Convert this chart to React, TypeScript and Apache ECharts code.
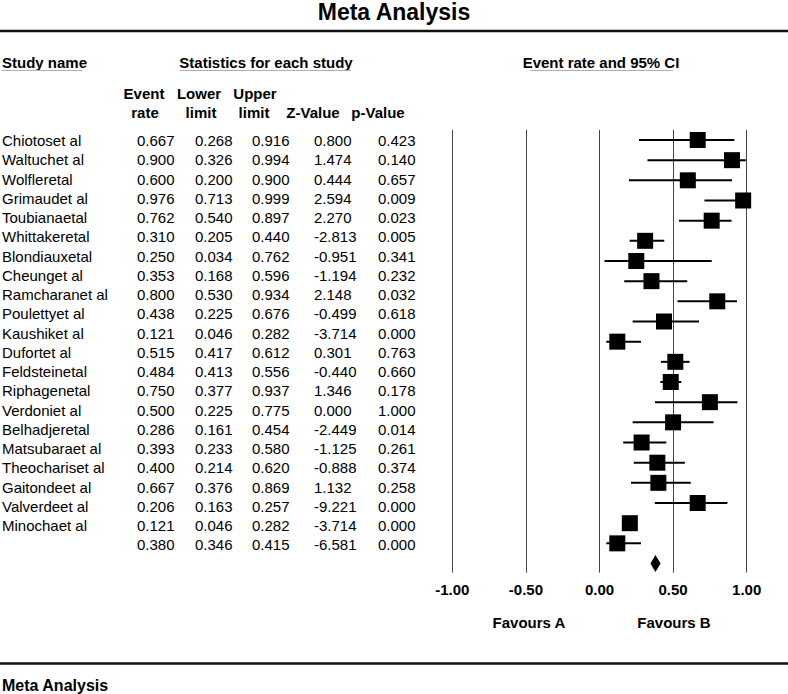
import React, { useEffect, useRef } from "react";
import * as echarts from "echarts";

const studyNames = [
  "Chiotoset al", "Waltuchet al", "Wolfleretal", "Grimaudet al", "Toubianaetal",
  "Whittakeretal", "Blondiauxetal", "Cheunget al", "Ramcharanet al", "Poulettyet al",
  "Kaushiket al", "Dufortet al", "Feldsteinetal", "Riphagenetal", "Verdoniet al",
  "Belhadjeretal", "Matsubaraet al", "Theochariset al", "Gaitondeet al", "Valverdeet al",
  "Minochaet al", "",
];
const eventRate = [0.667, 0.9, 0.6, 0.976, 0.762, 0.31, 0.25, 0.353, 0.8, 0.438, 0.121, 0.515, 0.484, 0.75, 0.5, 0.286, 0.393, 0.4, 0.667, 0.206, 0.121, 0.38];
const lowerLimit = [0.268, 0.326, 0.2, 0.713, 0.54, 0.205, 0.034, 0.168, 0.53, 0.225, 0.046, 0.417, 0.413, 0.377, 0.225, 0.161, 0.233, 0.214, 0.376, 0.163, 0.046, 0.346];
const upperLimit = [0.916, 0.994, 0.9, 0.999, 0.897, 0.44, 0.762, 0.596, 0.934, 0.676, 0.282, 0.612, 0.556, 0.937, 0.775, 0.454, 0.58, 0.62, 0.869, 0.257, 0.282, 0.415];
const zValue = [0.8, 1.474, 0.444, 2.594, 2.27, -2.813, -0.951, -1.194, 2.148, -0.499, -3.714, 0.301, -0.44, 1.346, 0.0, -2.449, -1.125, -0.888, 1.132, -9.221, -3.714, -6.581];
const pValue = [0.423, 0.14, 0.657, 0.009, 0.023, 0.005, 0.341, 0.232, 0.032, 0.618, 0.0, 0.763, 0.66, 0.178, 1.0, 0.014, 0.261, 0.374, 0.258, 0.0, 0.0, 0.0];
const summaryIndex = 21;

const FONT = '"Liberation Sans", Arial, Helvetica, sans-serif';

export default function App() {
  const ref = useRef<HTMLDivElement>(null);
  useEffect(() => {
    if (!ref.current) return;
    const chart = echarts.init(ref.current, null, { renderer: "svg" });

    const graphics: any[] = [];
    const txt = (text: string, x: number, y: number, size: number, bold: boolean, align = "left") => {
      graphics.push({
        type: "text",
        x,
        y,
        silent: true,
        style: {
          text,
          fontSize: size,
          fontWeight: bold ? "bold" : "normal",
          fontFamily: FONT,
          fill: "#000",
          align,
          verticalAlign: "middle",
        },
      });
    };
    const hline = (x1: number, x2: number, y: number, w: number, color: string) => {
      graphics.push({
        type: "line",
        silent: true,
        shape: { x1, y1: y, x2, y2: y },
        style: { stroke: color, lineWidth: w },
      });
    };

    txt("Meta Analysis", 394, 12, 23, true, "center");
    hline(0, 788, 31, 2.5, "#111");
    txt("Study name", 2, 62, 15, true);
    txt("Statistics for each study", 266, 62, 15, true, "center");
    txt("Event rate and 95% CI", 601, 62, 15, true, "center");
    hline(2, 82, 70.5, 1, "#b0b0b0");
    hline(180, 351, 70.5, 1, "#b0b0b0");
    hline(530, 673, 70.5, 1, "#b0b0b0");

    txt("Event", 144, 93, 15, true, "center");
    txt("rate", 145, 112, 15, true, "center");
    txt("Lower", 199, 93, 15, true, "center");
    txt("limit", 201, 112, 15, true, "center");
    txt("Upper", 255, 93, 15, true, "center");
    txt("limit", 254, 112, 15, true, "center");
    txt("Z-Value", 313, 112, 15, true, "center");
    txt("p-Value", 378, 112, 15, true, "center");

    const y0 = 140.7;
    const dy = 19.25;
    studyNames.forEach((name, i) => {
      const y = y0 + dy * i;
      if (name) txt(name, 2, y, 15, false);
      txt(eventRate[i].toFixed(3), 137, y, 15, false);
      txt(lowerLimit[i].toFixed(3), 195, y, 15, false);
      txt(upperLimit[i].toFixed(3), 252, y, 15, false);
      txt(zValue[i].toFixed(3), 314, y, 15, false);
      txt(pValue[i].toFixed(3), 378, y, 15, false);
    });

    txt("Favours A", 529, 622, 15, true, "center");
    txt("Favours B", 674, 622, 15, true, "center");
    hline(0, 788, 663.5, 2.5, "#111");
    txt("Meta Analysis", 2, 685, 16, true);

    const studyData = eventRate.map((v, i) => [v, i, lowerLimit[i], upperLimit[i]]).filter((_, i) => i !== summaryIndex);
    const summaryData = [[eventRate[summaryIndex], summaryIndex, lowerLimit[summaryIndex], upperLimit[summaryIndex]]];

    chart.setOption({
      animation: false,
      backgroundColor: "#fff",
      grid: { left: 452.3, right: 41.3, top: 129.9, bottom: 121.4, containLabel: false },
      xAxis: {
        type: "value",
        min: -1,
        max: 1,
        interval: 0.5,
        axisLine: { show: false },
        axisTick: { show: false },
        splitLine: { show: true, lineStyle: { color: "#444", width: 1 } },
        axisLabel: {
          formatter: (v: number) => v.toFixed(2),
          fontFamily: FONT,
          fontSize: 15,
          fontWeight: "bold",
          color: "#000",
          margin: 9,
        },
      },
      yAxis: {
        type: "value",
        inverse: true,
        min: -0.5,
        max: 21.45,
        show: false,
        splitLine: { show: false },
      },
      series: [
        {
          type: "custom",
          silent: true,
          data: studyData,
          encode: { x: [0, 2, 3], y: 1 },
          renderItem: (params: any, api: any) => {
            const idx = api.value(1);
            const a = api.coord([api.value(2), idx]);
            const b = api.coord([api.value(3), idx]);
            return {
              type: "line",
              shape: { x1: a[0], y1: a[1], x2: b[0], y2: b[1] },
              style: { stroke: "#000", lineWidth: 2 },
            };
          },
          z: 2,
        },
        {
          type: "scatter",
          silent: true,
          data: studyData.map((d) => [d[0], d[1]]),
          symbol: "rect",
          symbolSize: 16,
          itemStyle: { color: "#000", opacity: 1 },
          z: 3,
        },
        {
          type: "custom",
          silent: true,
          data: summaryData,
          encode: { x: [0, 2, 3], y: 1 },
          renderItem: (params: any, api: any) => {
            const idx = api.value(1);
            const c = api.coord([api.value(0), idx]);
            const a = api.coord([api.value(2), idx]);
            const b = api.coord([api.value(3), idx]);
            return {
              type: "polygon",
              shape: { points: [[a[0], c[1]], [c[0], c[1] - 8.5], [b[0], c[1]], [c[0], c[1] + 8.5]] },
              style: { fill: "#000" },
            };
          },
          z: 3,
        },
      ],
      graphic: { elements: graphics },
    });
    return () => chart.dispose();
  }, []);
  return (
    <div
      ref={ref}
      style={{ position: "absolute", left: 0, top: 0, width: 788, height: 694, background: "#fff" }}
    />
  );
}
